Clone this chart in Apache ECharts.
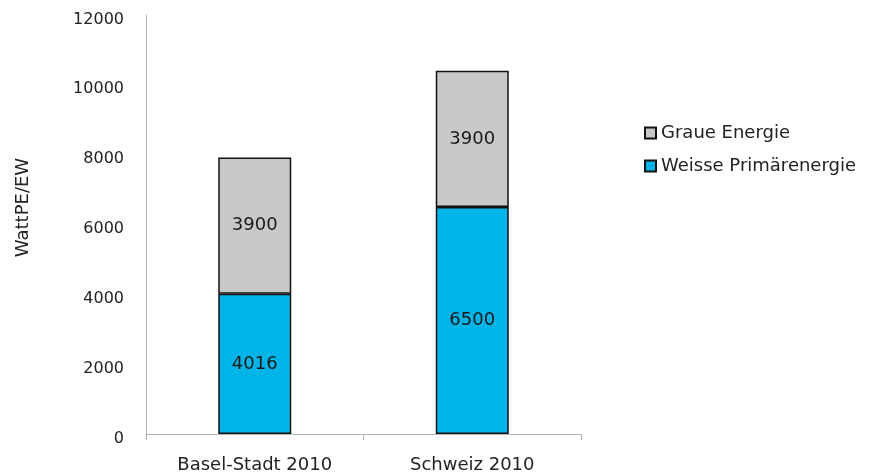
<!DOCTYPE html>
<html><head><meta charset="utf-8">
<script src="https://cdn.jsdelivr.net/npm/echarts@6/dist/echarts.min.js"></script>
<style>html,body{margin:0;padding:0;background:#fff}#c{width:874px;height:476px}</style>
</head><body><div id="c"></div>
<script>
const categories = ['Basel-Stadt 2010', 'Schweiz 2010'];
const weissePrimaerenergie = [4016, 6500];
const graueEnergie = [3900, 3900];
const yTicks = [0, 2000, 4000, 6000, 8000, 10000, 12000];

const font = 'DejaVu Sans';
const chart = echarts.init(document.getElementById('c'));
chart.setOption({
  backgroundColor: '#fff',
  animation: false,
  grid: { left: 146, right: 293, top: 15, bottom: 42 },
  legend: {
    orient: 'vertical', left: 639, top: 119, itemGap: 15,
    itemWidth: 11, itemHeight: 11, icon: 'rect',
    textStyle: { fontFamily: font, fontSize: 18, color: '#222' },
    data: ['Graue Energie', 'Weisse Primärenergie']
  },
  xAxis: {
    type: 'category', data: categories,
    axisLine: { lineStyle: { color: '#b3b3b3', width: 1 } },
    axisTick: { show: true, length: 6, lineStyle: { color: '#b3b3b3' } },
    axisLabel: { fontFamily: font, fontSize: 18, color: '#222', margin: 22 }
  },
  yAxis: {
    type: 'value', min: yTicks[0], max: yTicks[yTicks.length-1], interval: 2000,
    name: 'WattPE/EW', nameLocation: 'middle', nameGap: 114,
    nameTextStyle: { fontFamily: font, fontSize: 18, color: '#222', padding: [0,0,0,34] },
    axisLine: { show: true, lineStyle: { color: '#b3b3b3', width: 1 } },
    axisTick: { show: false },
    splitLine: { show: false },
    axisLabel: { color: '#222', margin: 22,
      formatter: function (v) { return '{a|' + v + '}'; },
      rich: { a: { fontFamily: font, fontSize: 16, color: '#222', padding: [9,0,0,0] } } }
  },
  series: [
    {
      name: 'Weisse Primärenergie', type: 'bar', stack: 'e', data: weissePrimaerenergie,
      barWidth: 73,
      itemStyle: { color: '#00B4E8', borderColor: '#111', borderWidth: 1.5 },
      label: { show: true, position: 'inside', fontFamily: font, fontSize: 18, color: '#1a1a1a' }
    },
    {
      name: 'Graue Energie', type: 'bar', stack: 'e', data: graueEnergie,
      barWidth: 73,
      itemStyle: { color: '#C8C8C8', borderColor: '#111', borderWidth: 1.5 },
      label: { show: true, position: 'inside', fontFamily: font, fontSize: 18, color: '#1a1a1a' }
    }
  ]
});
</script></body></html>
